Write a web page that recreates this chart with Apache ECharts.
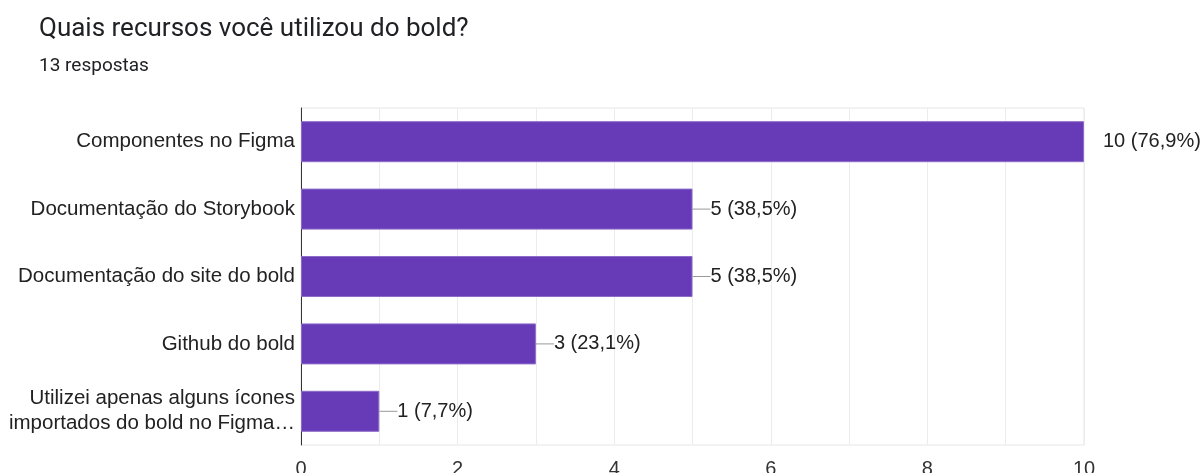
<!DOCTYPE html>
<html>
<head>
<meta charset="utf-8">
<script src="https://cdn.jsdelivr.net/npm/echarts@6/dist/echarts.min.js"></script>
<style>html,body{margin:0;padding:0;background:#fff;}#c{width:1203px;height:473px;}</style>
</head>
<body>
<div id="c"></div>
<script>
const titleText = 'Quais recursos você utilizou do bold?';
const subtitleText = '13 respostas';
const categories = [
  'Componentes no Figma',
  'Documentação do Storybook',
  'Documentação do site do bold',
  'Github do bold',
  'Utilizei apenas alguns ícones\nimportados do bold no Figma…'
];
const counts = [10, 5, 5, 3, 1];
const percents = ['76,9%', '38,5%', '38,5%', '23,1%', '7,7%'];
const xTicks = [0, 2, 4, 6, 8, 10];

const chart = echarts.init(document.getElementById('c'), null, {renderer: 'canvas'});
const tFont = 'Roboto, "Noto Sans", sans-serif';
const aFont = '"Liberation Sans", Arial, sans-serif';
chart.setOption({
  animation: false,
  title: [
    {text: titleText, left: 34, top: 11, textStyle: {fontFamily: tFont, fontSize: 26, fontWeight: 'normal', color: '#202124'}},
    {text: subtitleText, left: 34, top: 52, textStyle: {fontFamily: tFont, fontSize: 19, fontWeight: 'normal', color: '#202124'}}
  ],
  grid: {left: 301, right: 119, top: 108, bottom: 28, show: true, borderColor: '#e6e6e6', borderWidth: 1,
         containLabel: false, outerBoundsMode: 'none'},
  xAxis: {
    type: 'value', min: 0, max: 10, interval: 1,
    axisLine: {show: false}, axisTick: {show: false},
    splitLine: {show: true, lineStyle: {color: '#ececec'}},
    axisLabel: {
      margin: 14, fontFamily: aFont, fontSize: 20, color: '#333',
      formatter: v => xTicks.indexOf(v) >= 0 ? String(v) : ''
    }
  },
  yAxis: {
    type: 'category', data: categories, inverse: true,
    axisLine: {show: true, lineStyle: {color: '#333', width: 1}},
    axisTick: {show: false},
    axisLabel: {margin: 6, fontFamily: aFont, fontSize: 20.5, color: '#222', lineHeight: 25, align: 'right'}
  },
  series: [{
    type: 'bar',
    data: counts,
    barWidth: 41,
    itemStyle: {color: '#673ab7', borderColor: '#8c6bc9', borderWidth: 1},
    label: {
      show: true, position: 'right', distance: 0,
      fontFamily: aFont, fontSize: 20, color: '#222',
      formatter: p => (p.dataIndex === 0 ? '{gap|}' : '{ln|}') + p.value + ' (' + percents[p.dataIndex] + ')',
      rich: {
        ln: {width: 18, height: 1, backgroundColor: '#999', verticalAlign: 'middle'},
        gap: {width: 19, height: 1}
      }
    }
  }]
});
</script>
</body>
</html>
